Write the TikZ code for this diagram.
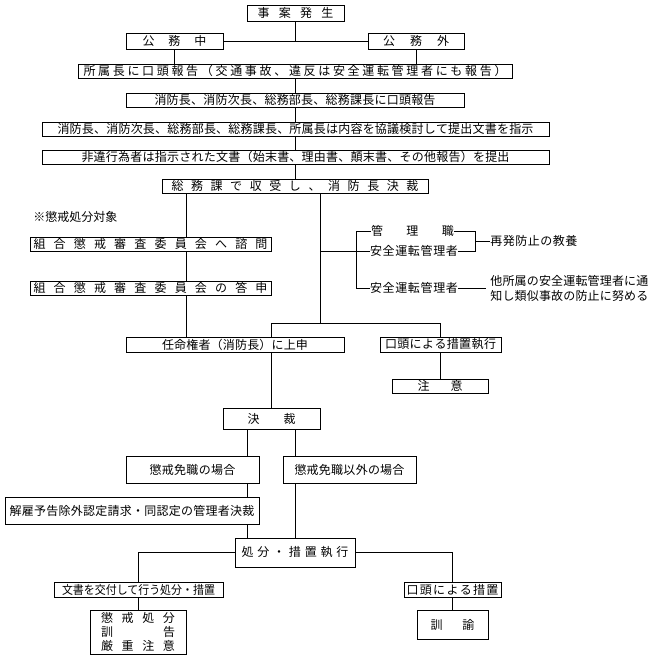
\documentclass[tikz,border=0pt]{standalone}
\usepackage{graphicx}
\usepackage{fontspec}
\setmainfont{Noto Sans CJK JP}
\newsavebox\tbox
\def\sploop#1{#1\futurelet\spnext\spcheck}
\def\spcheck{\ifx\spnext\relax\expandafter\spend\else\expandafter\spfil\fi}
\def\spfil{\hfill\sploop}
\def\spend\relax{}
\newcommand\tx[2]{\sbox\tbox{#2}\ifdim\wd\tbox<#1\relax\hbox to #1{\sploop#2\relax}\else\pgfmathsetmacro\sc{#1/\the\wd\tbox}\scalebox{\sc}[1]{\usebox\tbox}\fi}
\newcommand\bx[6]{%
 \pgfmathsetmacro\bw{#4-#2}\pgfmathsetmacro\bh{#5-#3}%
 \pgfmathsetmacro\bcx{(#2+#4)/2}\pgfmathsetmacro\bcy{(#3+#5)/2}%
 \node[box,minimum width=\bw pt,minimum height=\bh pt] (#1) at (\bcx,\bcy) {#6};}
\begin{document}
\begin{tikzpicture}[x=1pt,y=-1pt,
  box/.style={draw,line width=0.8pt,inner sep=0pt,font=\fontsize{12}{14}\selectfont},
  txt/.style={inner sep=0pt,font=\fontsize{12}{15}\selectfont},
  every path/.style={line width=0.8pt}]
\useasboundingbox[fill=white] (0,0) rectangle (649,659);
\bx{A}{247}{5}{344}{21}{\tx{76pt}{事案発生}}
\bx{B}{126}{33}{223}{49}{\tx{64pt}{公務中}}
\bx{C}{368}{33}{464}{49}{\tx{66pt}{公務外}}
\bx{D}{78}{64}{512}{78}{\tx{423pt}{所属長に口頭報告（交通事故、違反は安全運転管理者にも報告）}}
\bx{E}{126}{93}{464}{107}{\tx{281pt}{消防長、消防次長、総務部長、総務課長に口頭報告}}
\bx{F}{42}{122}{549}{136}{\tx{476pt}{消防長、消防次長、総務部長、総務課長、所属長は内容を協議検討して提出文書を指示}}
\bx{G}{42}{150}{549}{164}{\tx{428pt}{非違行為者は指示された文書（始末書、理由書、顛末書、その他報告）を提出}}
\bx{H}{162}{179}{428}{193}{\tx{247pt}{総務課で収受し、消防長決裁}}
\bx{I}{30}{237}{271}{251}{\tx{234pt}{組合懲戒審査委員会へ諮問}}
\bx{J}{30}{281}{271}{295}{\tx{234pt}{組合懲戒審査委員会の答申}}
\bx{K}{126}{337}{344}{352}{\tx{146pt}{任命権者（消防長）に上申}}
\bx{L}{380}{337}{501}{352}{\tx{111pt}{口頭による措置執行}}
\bx{M}{392}{379}{488}{393}{\tx{45pt}{注意}}
\bx{N}{223}{408}{320}{429}{\tx{48pt}{決裁}}
\bx{O}{126}{456}{259}{483}{\tx{86pt}{懲戒免職の場合}}
\bx{P}{283}{456}{416}{483}{\tx{110pt}{懲戒免職以外の場合}}
\bx{Q}{5}{497}{259}{524}{\tx{245pt}{解雇予告除外認定請求・同認定の管理者決裁}}
\bx{R}{235}{538}{355}{567}{\tx{107pt}{処分・措置執行}}
\bx{S}{54}{582}{223}{597}{\tx{153pt}{文書を交付して行う処分・措置}}
\bx{U}{404}{582}{501}{597}{\tx{92pt}{口頭による措置}}
\bx{V}{417}{610}{488}{639}{\tx{44pt}{訓諭}}
\node[box,align=center,minimum width=96pt,minimum height=44pt] (T) at (138,632)
  {\hbox to 74pt{懲\hfill 戒\hfill 処\hfill 分}\\\hbox to 74pt{訓\hfill 告}\\\hbox to 74pt{厳\hfill 重\hfill 注\hfill 意}};
\node[txt,anchor=west] (W) at (33,217) {\tx{84pt}{※懲戒処分対象}};
\node[txt] (X1) at (412.5,231) {\tx{83pt}{管理職}};
\node[txt] (X2) at (414,251) {\tx{88pt}{安全運転管理者}};
\node[txt] (X3) at (414,288) {\tx{88pt}{安全運転管理者}};
\node[txt,anchor=west] (Y) at (490,241) {\tx{87pt}{再発防止の教養}};
\node[txt,anchor=west,align=left] (Z) at (490,288) {\tx{158pt}{他所属の安全運転管理者に通}\\\tx{158pt}{知し類似事故の防止に努める}};
% connectors
\draw (A.south) -- (A.south |- B.east);
\draw (B.east) -- (C.west);
\draw (B.south) -- (B.south |- D.north);
\draw (C.south) -- (C.south |- D.north);
\draw (D.south) -- (D.south |- E.north);
\draw (E.south) -- (E.south |- F.north);
\draw (F.south) -- (F.south |- G.north);
\draw (G.south) -- (G.south |- H.north);
\coordinate (cl) at (186,0);
\draw (H.south -| cl) -- (I.north -| cl);
\draw (I.south -| cl) -- (J.north -| cl);
\draw (J.south -| cl) -- (K.north -| cl);
\coordinate (cr) at (320,323);
\draw (H.south -| cr) -- (cr);
\coordinate (kk) at (N.north |- cr);
\draw (K.north -| kk) -- (kk) -- (kk -| L.north) -- (L.north);
\draw (K.south -| N.north) -- (N.north);
\coordinate (br) at (356,251);
\draw (cr |- br) -- (br);
\draw (X1.west) -- (X1.west -| br) -- (X3.west -| br) -- (X3.west);
\draw (br) -- (X2.west);
\coordinate (rb) at (475,241);
\draw (X1.east) -- (X1.east -| rb) -- (X2.east -| rb) -- (X2.east);
\draw (rb) -- (Y.west);
\draw[shorten >=4pt] (X3.east) -- (Z.west);
\draw (L.south) -- (L.south |- M.north);
\coordinate (nl) at (247,0);
\coordinate (nr) at (295,0);
\draw (N.south -| nl) -- (O.north -| nl);
\draw (N.south -| nr) -- (P.north -| nr);
\draw (O.south -| nl) -- (Q.north -| nl);
\draw (Q.south -| nl) -- (R.north -| nl);
\draw (P.south -| nr) -- (R.north -| nr);
\draw (R.west) -- (R.west -| S.north) -- (S.north);
\draw (R.east) -- (R.east -| U.north) -- (U.north);
\draw (S.south) -- (S.south |- T.north);
\draw (U.south) -- (U.south |- V.north);
\end{tikzpicture}
\end{document}
